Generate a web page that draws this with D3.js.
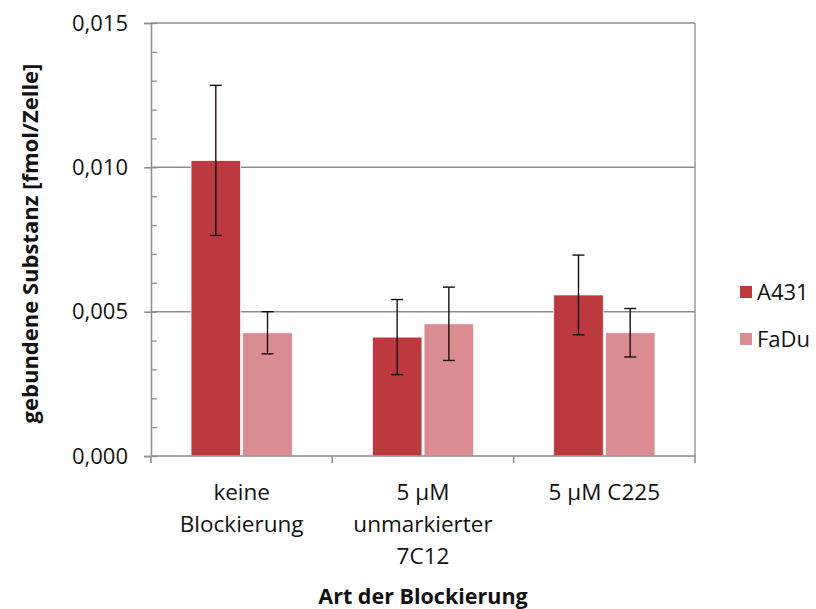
<!DOCTYPE html>
<html>
<head>
<meta charset="utf-8">
<script src="https://cdn.jsdelivr.net/npm/d3@7"></script>
<style>
  html, body { margin: 0; padding: 0; background: #fff; }
  svg { display: block; }
  text { font-family: "Open Sans", "DejaVu Sans", sans-serif; fill: #111; }
</style>
</head>
<body>
<svg id="chart" width="816" height="609"></svg>
<script>
// Bound substance per cell for each blocking condition
const categories = [["keine", "Blockierung"], ["5 µM", "unmarkierter", "7C12"], ["5 µM C225"]];
const categoryKeys = ["keine Blockierung", "5 µM unmarkierter 7C12", "5 µM C225"];
const seriesNames = ["A431", "FaDu"];
const valuesA431 = [0.01024, 0.00412, 0.00558];
const valuesFaDu = [0.00427, 0.00458, 0.00427];
const errorsA431 = [0.00260, 0.00130, 0.00138];
const errorsFaDu = [0.00073, 0.00127, 0.00084];
const yTicks = [0, 0.005, 0.010, 0.015];
const yTickLabels = ["0,000", "0,005", "0,010", "0,015"];
const colors = ["#bb393f", "#db8c93"];

const svg = d3.select("#chart");
const plot = { left: 151, right: 695, top: 23, bottom: 456 };

const x0 = d3.scaleBand().domain(categoryKeys).range([plot.left, plot.right]);
const x1 = d3.scaleBand().domain(seriesNames)
  .range([40, x0.bandwidth() - 40]).paddingInner(0.04);
const y = d3.scaleLinear().domain([0, 0.015]).range([plot.bottom, plot.top]);

const series = [
  { name: "A431", values: valuesA431, errors: errorsA431, color: colors[0] },
  { name: "FaDu", values: valuesFaDu, errors: errorsFaDu, color: colors[1] }
];

// Horizontal gridlines
svg.append("g").selectAll("line").data(yTicks.slice(1)).join("line")
  .attr("x1", plot.left).attr("x2", plot.right)
  .attr("y1", d => y(d)).attr("y2", d => y(d))
  .attr("stroke", "#8c8c8c").attr("stroke-width", 1.5);

// Right border of plot area
svg.append("line")
  .attr("x1", plot.right).attr("x2", plot.right)
  .attr("y1", plot.top).attr("y2", plot.bottom)
  .attr("stroke", "#9a9a9a").attr("stroke-width", 1.5);

// Bars
const groups = svg.append("g").selectAll("g").data(categoryKeys).join("g")
  .attr("transform", d => `translate(${x0(d)},0)`);

series.forEach(s => {
  groups.append("rect")
    .attr("x", x1(s.name))
    .attr("width", x1.bandwidth())
    .attr("y", (d, i) => y(s.values[i]))
    .attr("height", (d, i) => y(0) - y(s.values[i]))
    .attr("fill", s.color)
    .attr("stroke", "#fff").attr("stroke-width", 0.8);
});

// Error bars
series.forEach(s => {
  const cx = x1(s.name) + x1.bandwidth() / 2;
  const eb = groups.append("g").attr("stroke", "#1a0d0d").attr("stroke-width", 1.4);
  eb.append("line")
    .attr("x1", cx).attr("x2", cx)
    .attr("y1", (d, i) => y(s.values[i] + s.errors[i]))
    .attr("y2", (d, i) => y(s.values[i] - s.errors[i]));
  eb.append("line")
    .attr("x1", cx - 6).attr("x2", cx + 6)
    .attr("y1", (d, i) => y(s.values[i] + s.errors[i]))
    .attr("y2", (d, i) => y(s.values[i] + s.errors[i]));
  eb.append("line")
    .attr("x1", cx - 6).attr("x2", cx + 6)
    .attr("y1", (d, i) => y(s.values[i] - s.errors[i]))
    .attr("y2", (d, i) => y(s.values[i] - s.errors[i]));
});

// Y axis: minor ticks inside, major ticks outside
const yMinor = d3.axisRight(y).ticks(15).tickSize(6).tickFormat("");
svg.append("g").attr("transform", `translate(${plot.left},0)`).call(yMinor)
  .call(g => g.select(".domain").remove())
  .call(g => g.selectAll("line").attr("stroke", "#8c8c8c").attr("stroke-width", 1.3));

const yAxis = d3.axisLeft(y).tickValues(yTicks).tickSize(7)
  .tickFormat((d, i) => yTickLabels[i]).tickPadding(16);
svg.append("g").attr("transform", `translate(${plot.left},0)`).call(yAxis)
  .call(g => g.select(".domain").attr("stroke", "#8c8c8c").attr("stroke-width", 1.5))
  .call(g => g.selectAll("line").attr("stroke", "#8c8c8c").attr("stroke-width", 1.5))
  .call(g => g.selectAll("text").attr("font-size", 22).attr("fill", "#111")
    .attr("font-family", "'Open Sans', sans-serif"));

// X axis with category boundary ticks
const xAxis = svg.append("g");
xAxis.append("line")
  .attr("x1", plot.left).attr("x2", plot.right)
  .attr("y1", plot.bottom).attr("y2", plot.bottom)
  .attr("stroke", "#8c8c8c").attr("stroke-width", 1.5);
const bounds = categoryKeys.map(k => x0(k)).concat([plot.right]);
xAxis.selectAll("line.tick").data(bounds).join("line").attr("class", "tick")
  .attr("x1", d => d).attr("x2", d => d)
  .attr("y1", plot.bottom).attr("y2", plot.bottom + 7)
  .attr("stroke", "#8c8c8c").attr("stroke-width", 1.5);

// Category labels (multi-line)
categoryKeys.forEach((k, i) => {
  const t = svg.append("text")
    .attr("x", x0(k) + x0.bandwidth() / 2)
    .attr("y", 500)
    .attr("text-anchor", "middle")
    .attr("font-size", 22.5);
  categories[i].forEach((line, j) => {
    t.append("tspan").attr("x", x0(k) + x0.bandwidth() / 2)
      .attr("dy", j === 0 ? 0 : 32).text(line);
  });
});

// Axis titles
svg.append("text")
  .attr("x", (plot.left + plot.right) / 2).attr("y", 604)
  .attr("text-anchor", "middle").attr("font-size", 21.5).attr("font-weight", 700)
  .text("Art der Blockierung");

svg.append("text")
  .attr("transform", `translate(38,${(plot.top + plot.bottom) / 2 + 4}) rotate(-90)`)
  .attr("text-anchor", "middle").attr("font-size", 22).attr("font-weight", 700)
  .text("gebundene Substanz [fmol/Zelle]");

// Legend
const legend = svg.append("g").attr("transform", "translate(740,0)");
const legendY = [292, 339];
series.forEach((s, i) => {
  legend.append("rect").attr("x", 0).attr("y", legendY[i] - 6)
    .attr("width", 12).attr("height", 12).attr("fill", s.color);
  legend.append("text").attr("x", 17).attr("y", legendY[i] + 8)
    .attr("font-size", 22).text(s.name);
});
</script>
</body>
</html>
